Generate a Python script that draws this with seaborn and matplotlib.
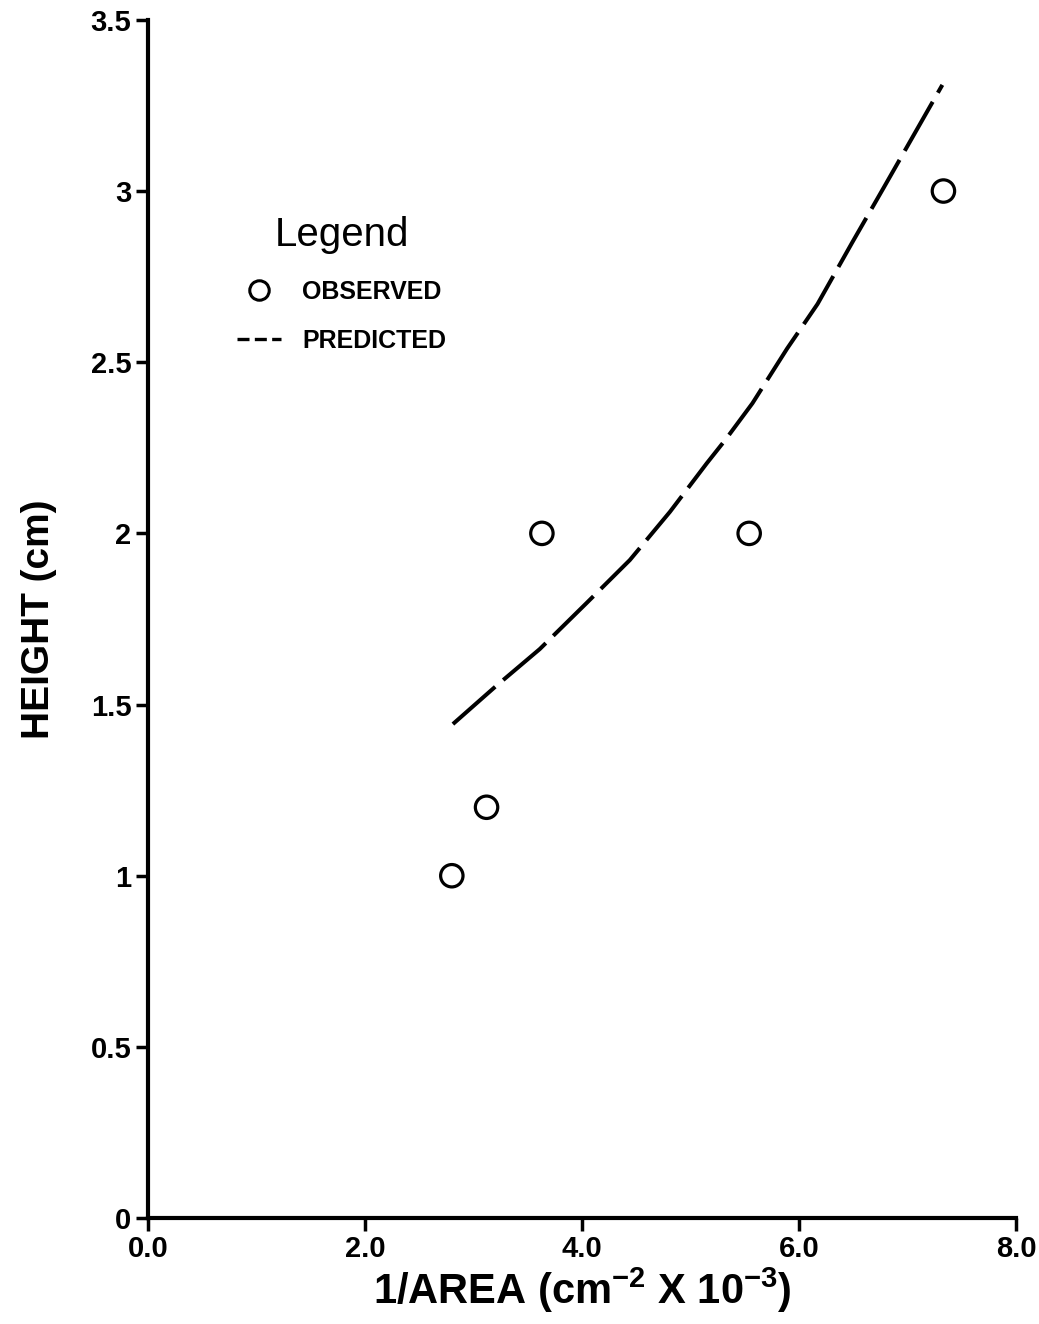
import matplotlib
matplotlib.use("Agg")
import matplotlib.pyplot as plt
from matplotlib.lines import Line2D
import seaborn as sns
import pandas as pd

# Observed plant heights against inverse leaf area
obs_x = [2.80, 3.12, 3.63, 5.54, 7.33]
obs_y = [1.0, 1.2, 2.0, 2.0, 3.0]

# Model prediction
pred_x = [2.81, 3.20, 3.61, 4.04, 4.44, 4.81, 5.15, 5.32, 5.57, 5.89, 6.17,
          6.49, 6.78, 7.05, 7.32]
pred_y = [1.443, 1.552, 1.662, 1.796, 1.922, 2.063, 2.205, 2.273, 2.38, 2.54,
          2.67, 2.85, 3.01, 3.16, 3.31]

x_ticks = [0.0, 2.0, 4.0, 6.0, 8.0]
x_tick_labels = ["0.0", "2.0", "4.0", "6.0", "8.0"]
y_ticks = [0, 0.5, 1, 1.5, 2, 2.5, 3, 3.5]
y_tick_labels = ["0", "0.5", "1", "1.5", "2", "2.5", "3", "3.5"]

sns.set_style("ticks")
plt.rcParams["font.family"] = ["Liberation Sans", "DejaVu Sans"]
plt.rcParams["mathtext.fontset"] = "custom"
plt.rcParams["mathtext.bf"] = "Liberation Sans:bold"
plt.rcParams["mathtext.rm"] = "Liberation Sans"
for key in ("text.color", "axes.labelcolor", "xtick.color", "ytick.color"):
    plt.rcParams[key] = "black"

obs = pd.DataFrame({"x": obs_x, "y": obs_y})
pred = pd.DataFrame({"x": pred_x, "y": pred_y})

fig = plt.figure(figsize=(10.39, 13.24), dpi=100)
ax = fig.add_axes([0.1424, 0.080, 0.8356, 0.905])

sns.lineplot(data=pred, x="x", y="y", ax=ax, color="black", linewidth=2.9,
             dashes=False, sort=False)
ax.lines[-1].set_dashes((14, 2.6))
sns.scatterplot(data=obs, x="x", y="y", ax=ax, s=260, marker="o",
                facecolors="none", edgecolors="black", linewidths=2.3,
                zorder=3)

ax.set_xlim(0, 8.0)
ax.set_ylim(0, 3.5)
ax.set_xticks(x_ticks)
ax.set_xticklabels(x_tick_labels, fontsize=21, fontweight="bold")
ax.set_yticks(y_ticks)
ax.set_yticklabels(y_tick_labels, fontsize=21, fontweight="bold")
ax.tick_params(axis="both", direction="out", length=9, width=2.5,
               color="black", pad=3)

for side in ("top", "right"):
    ax.spines[side].set_visible(False)
for side in ("left", "bottom"):
    ax.spines[side].set_linewidth(3)
    ax.spines[side].set_color("black")

ax.set_xlabel(r"1/AREA (cm$^{\mathbf{-2}}$ X 10$^{\mathbf{-3}}$)",
              fontsize=30, fontweight="bold", labelpad=2)
ax.set_ylabel("HEIGHT (cm)", fontsize=28, fontweight="bold", labelpad=24)

handles = [
    Line2D([], [], linestyle="none", marker="o", markersize=14,
           markerfacecolor="none", markeredgecolor="black",
           markeredgewidth=2.2),
    Line2D([], [], color="black", linewidth=2.4, dashes=(3.6, 1.6)),
]
leg = ax.legend(handles, ["OBSERVED", "PREDICTED"], title="Legend",
                frameon=False, loc="upper left",
                bbox_to_anchor=(0.077, 0.855), handlelength=1.76,
                handletextpad=0.84, labelspacing=1.02,
                prop={"size": 18, "weight": "bold"})
leg.get_title().set_fontsize(29)
leg.get_title().set_fontweight("normal")
leg._legend_box.align = "center"

fig.savefig("out.png", dpi=100, facecolor="white")
